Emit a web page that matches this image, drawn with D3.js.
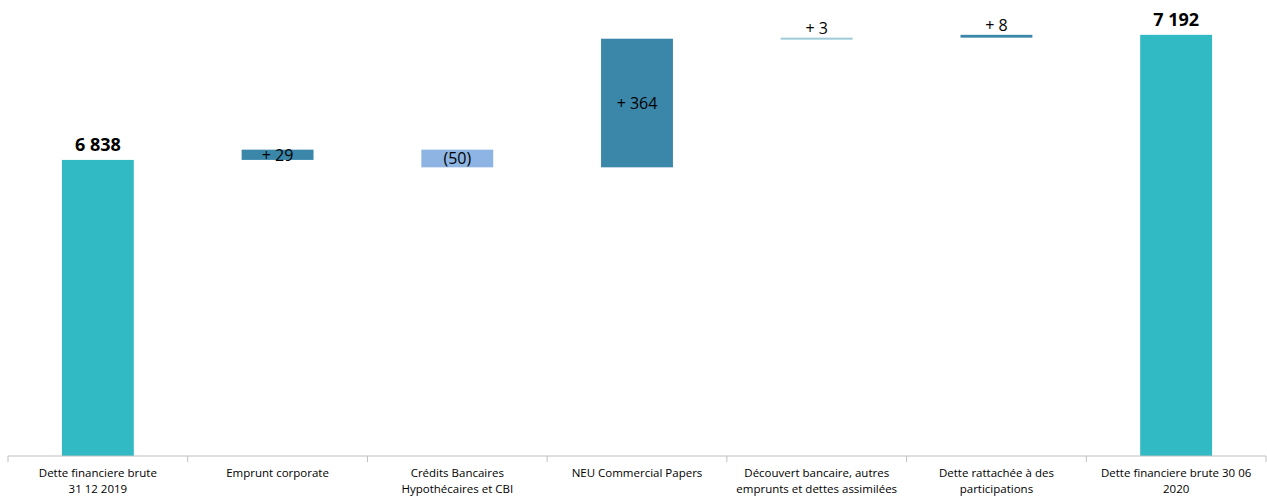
<!DOCTYPE html>
<html>
<head>
<meta charset="utf-8">
<script src="https://cdn.jsdelivr.net/npm/d3@7"></script>
<style>
  body { margin: 0; background: #fff; }
  text { font-family: "Open Sans", "Noto Sans", sans-serif; }
</style>
</head>
<body>
<script>
// categories (two-line labels) and waterfall steps
const categories = [
  ['Dette financiere brute', '31 12 2019'],
  ['Emprunt corporate'],
  ['Crédits Bancaires', 'Hypothécaires et CBI'],
  ['NEU Commercial Papers'],
  ['Découvert bancaire, autres', 'emprunts et dettes assimilées'],
  ['Dette rattachée à des', 'participations'],
  ['Dette financiere brute 30 06', '2020']
];
const values = [6838, 29, -50, 364, 3, 8, 7192];
const kinds = ['total', 'delta', 'delta', 'delta', 'delta', 'delta', 'total'];
const labels = ['6 838', '+ 29', '(50)', '+ 364', '+ 3', '+ 8', '7 192'];
const colors = ['#31b9c4', '#3a87aa', '#8db4e2', '#3a87aa', '#9dcbd8', '#3a87aa', '#31b9c4'];

const width = 1267;
const height = 498;
const margin = { top: 32, right: 1, bottom: 42, left: 8 };

const svg = d3.select('body')
  .append('svg')
  .attr('width', width)
  .attr('height', height);

// running totals
let run = 0;
const data = values.map((v, i) => {
  let y0, y1;
  if (kinds[i] === 'total') {
    y0 = 6000; y1 = v; run = v;
  } else {
    y0 = run; y1 = run + v; run = y1;
  }
  return { i, v, lo: Math.min(y0, y1), hi: Math.max(y0, y1) };
});

const x = d3.scaleBand()
  .domain(d3.range(categories.length))
  .range([margin.left, width - margin.right])
  .paddingInner(0.6)
  .paddingOuter(0.3);

const y = d3.scaleLinear()
  .domain([6000, 7200])
  .range([height - margin.bottom, margin.top]);

svg.selectAll('rect.bar')
  .data(data)
  .enter().append('rect')
  .attr('class', 'bar')
  .attr('x', d => x(d.i))
  .attr('width', x.bandwidth())
  .attr('y', d => y(d.hi))
  .attr('height', d => Math.max(2, y(d.lo) - y(d.hi)))
  .attr('fill', d => colors[d.i]);

// axis
const axisY = y(6000);
const step = x.step();
svg.append('line')
  .attr('x1', margin.left).attr('x2', width - margin.right)
  .attr('y1', axisY).attr('y2', axisY)
  .attr('stroke', '#bfbfbf').attr('stroke-width', 1);

svg.selectAll('line.tick')
  .data(d3.range(categories.length + 1))
  .enter().append('line')
  .attr('class', 'tick')
  .attr('x1', i => margin.left + i * step)
  .attr('x2', i => margin.left + i * step)
  .attr('y1', axisY).attr('y2', axisY + 6)
  .attr('stroke', '#bfbfbf');

const cat = svg.selectAll('text.cat')
  .data(categories)
  .enter().append('text')
  .attr('class', 'cat')
  .attr('text-anchor', 'middle')
  .attr('font-size', 11.5)
  .attr('fill', '#000');
cat.each(function (lines, i) {
  d3.select(this).selectAll('tspan')
    .data(lines)
    .enter().append('tspan')
    .attr('x', x(i) + x.bandwidth() / 2)
    .attr('y', (d, j) => axisY + 21 + j * 16)
    .text(d => d);
});

// value labels
svg.selectAll('text.val')
  .data(data)
  .enter().append('text')
  .attr('class', 'val')
  .attr('text-anchor', 'middle')
  .attr('x', d => x(d.i) + x.bandwidth() / 2)
  .attr('font-size', d => kinds[d.i] === 'total' ? 18 : 16)
  .attr('font-weight', d => kinds[d.i] === 'total' ? 'bold' : 'normal')
  .attr('fill', '#000')
  .attr('dominant-baseline', 'central')
  .attr('y', d => {
    if (kinds[d.i] === 'total') return y(d.hi) - 16;
    if (Math.abs(d.v) >= 20) return (y(d.hi) + y(d.lo)) / 2;
    return y(d.hi) - 10;
  })
  .text(d => labels[d.i]);
</script>
</body>
</html>
